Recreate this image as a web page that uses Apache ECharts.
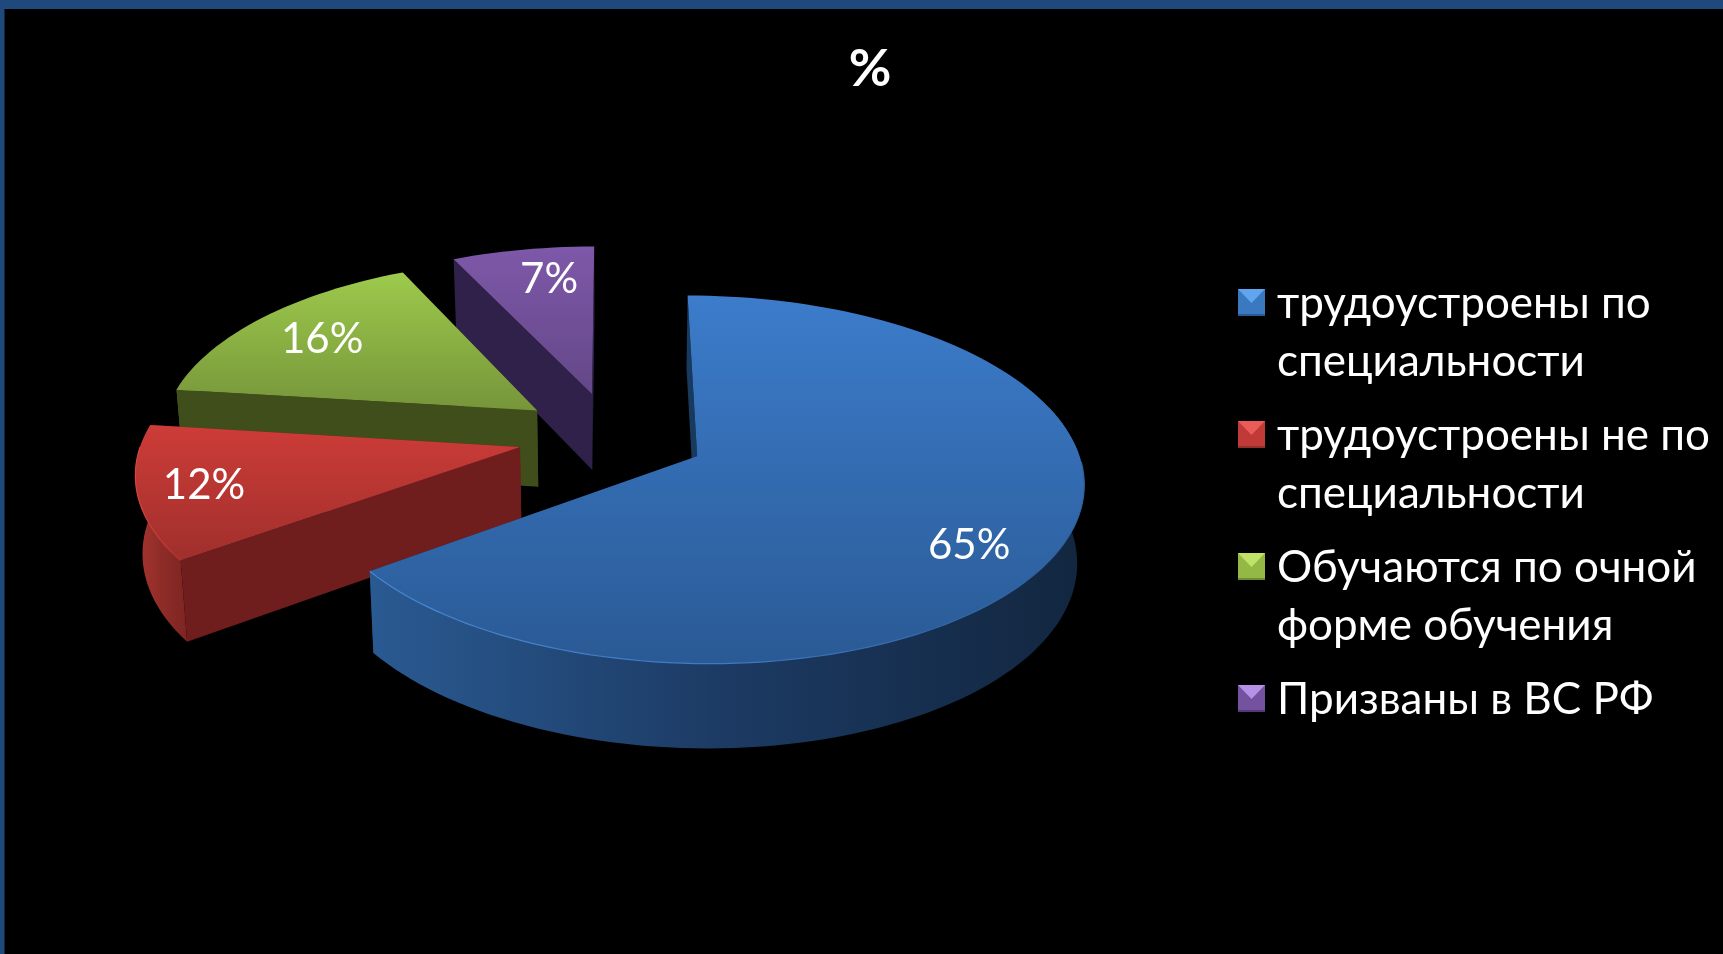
<!DOCTYPE html>
<html>
<head>
<meta charset="utf-8">
<title>%</title>
<script src="https://cdn.jsdelivr.net/npm/echarts@6/dist/echarts.min.js"></script>
<style>
  html, body { margin: 0; padding: 0; background: #000; }
  #chart { width: 1723px; height: 954px; }
</style>
</head>
<body>
<div id="chart"></div>
<script>
const categories = [
  'трудоустроены по\nспециальности',
  'трудоустроены не по\nспециальности',
  'Обучаются по очной\nформе обучения',
  'Призваны в ВС РФ'
];
const values = [65, 12, 16, 7];

const topColors = [
  ['#3c7ccb', '#2a5a95'],
  ['#cd3c38', '#a02f2c'],
  ['#9dca4c', '#76953a'],
  ['#7e58a9', '#634787']
];
const cutColors = ['#173a5e', '#6f1e1d', '#3f4e1a', '#30214a'];
const wallColors = [
  ['#2a5a92', '#1c3a63', '#12263f'],
  ['#a8352f', '#8f2c28', '#7d2522'],
  ['#5a7028', '#5a7028', '#4a5c20'],
  ['#46326b', '#46326b', '#3a2958']
];
const rimColors = [
  ['#4a88d4', '#4079c0', '#2c5f9c'],
  ['#d8443f', '#c83c38', '#b03330'],
  ['#9dca4c', '#9dca4c', '#9dca4c'],
  ['#7e58a9', '#7e58a9', '#7e58a9']
];
const markerColors = [
  ['#5fa6ee', '#3a78c0', '#2a5a94'],
  ['#ea5c57', '#c03a37', '#93302c'],
  ['#c0e268', '#94b846', '#6f8c33'],
  ['#b592e8', '#74529f', '#54397a']
];
// label offset from the slice apex, px
const labelOffsets = [[272, 89], [-316, 38], [-215, -71], [-43, -115]];

// perspective of the tilted pie
const CX = 612, CY = 436, RX = 377, RY = 176, RY_BOTTOM = 182;
const PERSPECTIVE = 0.125, DEPTH = 77, BOTTOM_SCALE = 0.985, EXPLODE = 0.25;

const total = values.reduce((a, b) => a + b, 0);

function project(U, V, bottom) {
  const s = 1 / (1 + PERSPECTIVE * V);
  if (bottom) return [CX + RX * U * s * BOTTOM_SCALE, CY + DEPTH - RY_BOTTOM * V * s];
  return [CX + RX * U * s, CY - RY * V * s];
}

function vGradient(c) {
  return new echarts.graphic.LinearGradient(0, 0, 0, 1, [
    { offset: 0, color: c[0] }, { offset: 1, color: c[1] }
  ]);
}

function hGradient(c) {
  return new echarts.graphic.LinearGradient(0, 0, 1, 0, [
    { offset: 0, color: c[0] }, { offset: 0.5, color: c[1] }, { offset: 1, color: c[2] }
  ]);
}

function renderSlice(index, api) {
  const value = api.value(0);
  const before = values.slice(0, index).reduce((a, b) => a + b, 0);
  const start = before / total * Math.PI * 2;
  const end = (before + value) / total * Math.PI * 2;
  const mid = (start + end) / 2;
  const ox = Math.sin(mid) * EXPLODE, oy = Math.cos(mid) * EXPLODE;

  const arc = [];
  const steps = Math.max(8, Math.round(value * 2));
  for (let i = 0; i <= steps; i++) {
    const t = start + (end - start) * i / steps;
    arc.push([ox + Math.sin(t), oy + Math.cos(t)]);
  }
  const wall = arc.filter(p => p[1] - oy < 0.3);
  const rim = arc.filter(p => p[1] - oy < 0);
  const topArc = arc.map(p => project(p[0], p[1], false));
  const apexTop = project(ox, oy, false);
  const apexBottom = project(ox, oy, true);
  const first = arc[0], last = arc[arc.length - 1];

  const children = [];
  const cut = (p, color) => children.push({
    type: 'polygon',
    shape: { points: [apexTop, project(p[0], p[1], false), project(p[0], p[1], true), apexBottom] },
    style: { fill: color }
  });

  cut(last, cutColors[index]);
  if (wall.length > 1) {
    children.push({
      type: 'polygon',
      shape: {
        points: wall.map(p => project(p[0], p[1], false))
          .concat(wall.slice().reverse().map(p => project(p[0], p[1], true)))
      },
      style: { fill: hGradient(wallColors[index]) }
    });
  }
  cut(first, cutColors[index]);
  children.push({
    type: 'polygon',
    shape: { points: [apexTop].concat(topArc) },
    style: { fill: vGradient(topColors[index]) }
  });
  if (rim.length > 1) {
    children.push({
      type: 'polyline',
      shape: { points: rim.map(p => project(p[0], p[1], false)) },
      style: { fill: null, stroke: hGradient(rimColors[index]), lineWidth: 1.2 }
    });
  }
  children.push({
    type: 'text',
    style: {
      text: value + '%',
      x: apexTop[0] + labelOffsets[index][0],
      y: apexTop[1] + labelOffsets[index][1],
      fill: '#fff',
      font: '42px Lato, "Noto Sans", sans-serif',
      align: 'center',
      verticalAlign: 'middle'
    }
  });
  return { type: 'group', children };
}

// legend square with a light top bevel, sits on the first text line of a two line box
function markerIcon(c) {
  const y = 14, s = 27, m = 13.5;
  const svg = `<svg xmlns="http://www.w3.org/2000/svg" width="27" height="116" viewBox="0 0 27 116">` +
    `<rect x="0" y="${y}" width="${s}" height="${s}" fill="${c[1]}"/>` +
    `<polygon points="0,${y} ${s},${y} ${m},${y + 14}" fill="${c[0]}"/>` +
    `<rect x="0" y="${y + s - 2}" width="${s}" height="2" fill="${c[2]}"/>` +
    `</svg>`;
  return 'image://data:image/svg+xml;charset=utf-8,' + encodeURIComponent(svg);
}

const chart = echarts.init(document.getElementById('chart'));
chart.setOption({
  backgroundColor: '#000',
  animation: false,
  title: {
    text: '%',
    left: 865,
    top: 38,
    textAlign: 'center',
    textStyle: { color: '#fff', fontFamily: 'Lato, "Noto Sans", sans-serif', fontWeight: 'bold', fontSize: 52 }
  },
  legend: {
    orient: 'vertical',
    left: 1238,
    top: 275,
    itemWidth: 27,
    itemHeight: 116,
    itemGap: 16,
    selectedMode: false,
    padding: 0,
    data: categories.map((name, i) => ({ name, icon: markerIcon(markerColors[i]) })),
    formatter: name => name.includes('\n') ? name : name + '\n ',
    textStyle: {
      color: '#fff',
      fontFamily: 'Lato, "Noto Sans", sans-serif',
      fontSize: 44,
      lineHeight: 58,
      padding: [0, 0, 0, 7]
    }
  },
  graphic: [
    { type: 'rect', shape: { x: 0, y: 0, width: 1723, height: 9 }, style: { fill: '#1f497d' } },
    { type: 'rect', shape: { x: 0, y: 0, width: 4.5, height: 954 }, style: { fill: '#1f497d' } }
  ],
  // back slices first so the nearer ones paint over them
  series: categories.map((name, i) => ({
    name,
    type: 'custom',
    coordinateSystem: 'none',
    silent: true,
    data: [[values[i]]],
    renderItem: (params, api) => renderSlice(i, api)
  })).reverse()
});
</script>
</body>
</html>
